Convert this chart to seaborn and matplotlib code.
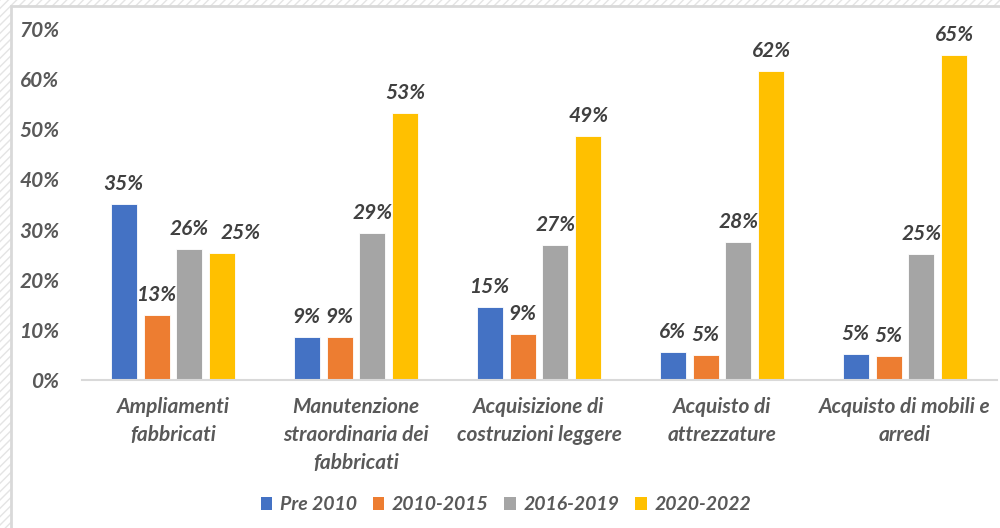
import matplotlib
matplotlib.use("Agg")
import matplotlib.pyplot as plt
import seaborn as sns
import pandas as pd
from matplotlib.patches import Rectangle

categories = ["Ampliamenti\nfabbricati",
              "Manutenzione\nstraordinaria dei\nfabbricati",
              "Acquisizione di\ncostruzioni leggere",
              "Acquisto di\nattrezzature",
              "Acquisto di mobili e\narredi"]
series = ["Pre 2010", "2010-2015", "2016-2019", "2020-2022"]
pre2010 = [35.1, 8.6, 14.6, 5.6, 5.2]
s2010_2015 = [13.0, 8.6, 9.2, 5.0, 4.8]
s2016_2019 = [26.1, 29.3, 26.9, 27.5, 25.1]
s2020_2022 = [25.3, 53.3, 48.7, 61.7, 64.9]
yticks = [0, 10, 20, 30, 40, 50, 60, 70]
colors = ["#4472C4", "#ED7D31", "#A5A5A5", "#FFC000"]

rows = []
for s, vals in zip(series, [pre2010, s2010_2015, s2016_2019, s2020_2022]):
    for c, v in zip(categories, vals):
        rows.append({"cat": c, "series": s, "val": v})
df = pd.DataFrame(rows)

sns.set_theme(style="white")
plt.rcParams['font.family'] = ['Lato', 'DejaVu Sans']
txt = "#595959"
lab = "#404040"

fig = plt.figure(figsize=(10, 5.28), dpi=100)
# Excel-like selection frame
fig.patches.append(Rectangle((0, 0), 1, 1, transform=fig.transFigure,
                             facecolor="white", edgecolor="#E4E4E4",
                             hatch="////", lw=0, zorder=-10))
fig.patches.append(Rectangle((11/1000, -0.01), 1.0, 1 - 6/528 + 0.01,
                             transform=fig.transFigure, facecolor="white",
                             edgecolor="#D9D9D9", lw=2, zorder=-9))

ax = fig.add_axes([81.5/1000, 1 - 380/528, 915/1000, (380 - 29)/528])
sns.barplot(data=df, x="cat", y="val", hue="series", hue_order=series,
            order=categories, palette=colors, width=0.72, ax=ax,
            errorbar=None, saturation=1, edgecolor="white", linewidth=0.6)

for p in ax.patches:
    w = p.get_width()
    nw = w * 26 / 33
    p.set_x(p.get_x() + (w - nw) / 2)
    p.set_width(nw)

PAD = 7
label_sets = []
for cont in ax.containers:
    anns = ax.bar_label(cont, labels=[f"{v:.0f}%" for v in cont.datavalues],
                        padding=PAD, fontsize=15, fontweight="bold",
                        fontstyle="italic", color=lab)
    label_sets.append(anns)

ax.set_ylim(0, 70)
ax.set_xlim(-0.5, 4.5)
ax.set_yticks(yticks)
ax.set_yticklabels([f"{t}%" for t in yticks])
ax.set_xlabel("")
ax.set_ylabel("")
ax.patch.set_alpha(0)
for sp in ["top", "right", "left"]:
    ax.spines[sp].set_visible(False)
ax.spines["bottom"].set_color("#D9D9D9")
ax.spines["bottom"].set_linewidth(1.5)
ax.tick_params(axis="both", length=0, labelsize=15, colors=txt)
ax.tick_params(axis="y", pad=16)
ax.tick_params(axis="x", pad=12)
for t in ax.get_xticklabels() + ax.get_yticklabels():
    t.set_fontweight("bold")
    t.set_fontstyle("italic")
    t.set_linespacing(1.5)

ax.legend_.remove()
handles = [Rectangle((0, 0), 1, 1, facecolor=c, edgecolor="none") for c in colors]
fig.legend(handles, series, loc="center", bbox_to_anchor=(0.506, 1 - 505/528),
           ncol=4, frameon=False, handlelength=0.6, handleheight=0.6,
           handletextpad=0.4, columnspacing=0.8,
           prop={"size": 14, "weight": "bold", "style": "italic"},
           labelcolor=txt)

# nudge overlapping data labels to the right (as in the reference)
fig.canvas.draw()
r = fig.canvas.get_renderer()
px2pt = 72 / fig.dpi
for i in range(len(categories)):
    for j in range(1, len(series)):
        prev = label_sets[j - 1][i].get_window_extent(r)
        cur_ann = label_sets[j][i]
        cur = cur_ann.get_window_extent(r)
        if cur.x0 < prev.x1 + 4 and cur.y0 < prev.y1 and cur.y1 > prev.y0:
            shift = (prev.x1 + 12 - cur.x0) * px2pt
            cur_ann.xyann = (shift, PAD)
            fig.canvas.draw()

fig.savefig("out.png", dpi=100)
